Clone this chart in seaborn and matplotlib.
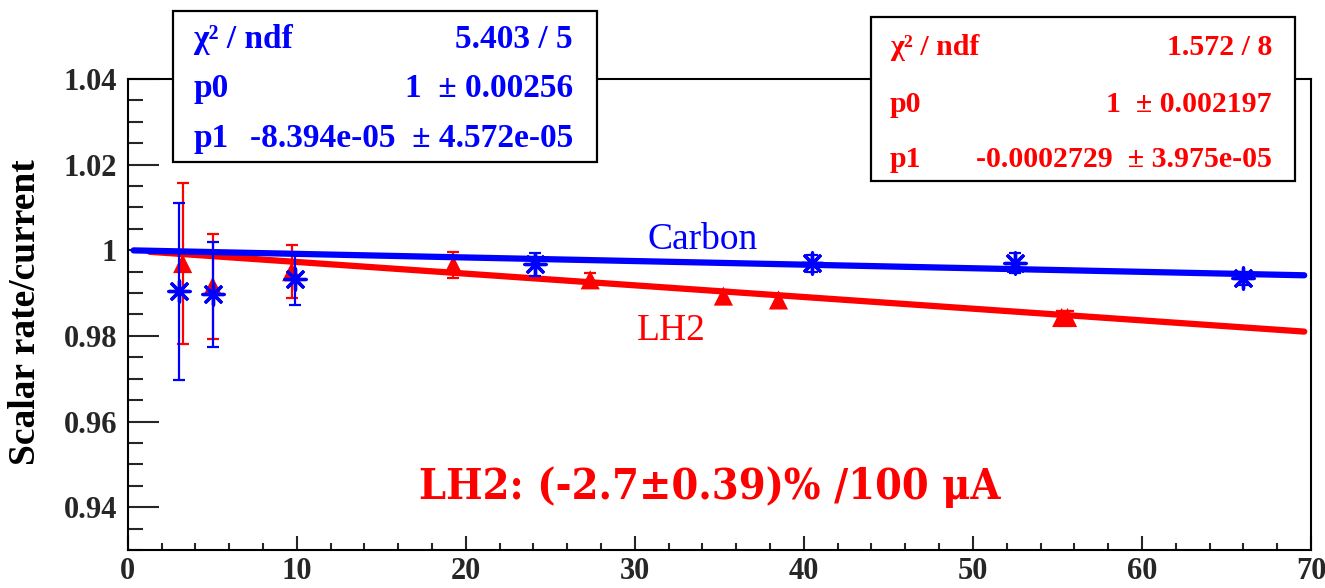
import numpy as np
import pandas as pd
import matplotlib
matplotlib.use("Agg")
import matplotlib.pyplot as plt
from matplotlib.patches import Rectangle
import seaborn as sns

# Measurements: normalised scaler rate vs beam current (uA)
carbon_x = [3.04, 5.03, 9.90, 24.07, 40.47, 52.50, 66.00]
carbon_y = [0.9904, 0.9897, 0.9933, 0.9967, 0.9970, 0.9970, 0.9935]
carbon_err = [0.0207, 0.0123, 0.0060, 0.0027, 0.0020, 0.0023, 0.0015]

lh2_x = [3.25, 5.03, 9.70, 19.26, 27.36, 35.24, 38.50, 55.25, 55.60]
lh2_y = [0.9969, 0.9916, 0.9950, 0.9965, 0.9931, 0.9893, 0.9884, 0.9843, 0.9843]
lh2_err = [0.0189, 0.0123, 0.0062, 0.0030, 0.0015, 0.0015, 0.0015, 0.0015, 0.0015]

# Linear fit results (p0 + p1 * x) and the ranges they are drawn over
carbon_p0, carbon_p1 = 1.0, -8.394e-05
lh2_p0, lh2_p1 = 1.0, -0.0002729
carbon_range = [0.35, 69.6]
lh2_range = [1.3, 69.6]

carbon_stats = [("χ² / ndf", "5.403 / 5"),
                ("p0", "1  ± 0.00256"),
                ("p1", "-8.394e-05  ± 4.572e-05")]
lh2_stats = [("χ² / ndf", "1.572 / 8"),
             ("p0", "1  ± 0.002197"),
             ("p1", "-0.0002729  ± 3.975e-05")]

x_ticks = [0, 10, 20, 30, 40, 50, 60, 70]
y_ticks = [0.94, 0.96, 0.98, 1.0, 1.02, 1.04]
y_tick_labels = ["0.94", "0.96", "0.98", "1", "1.02", "1.04"]

BLUE = "#0000ff"
RED = "#ff0000"
SERIF = ["Liberation Serif", "DejaVu Serif"]

sns.set_theme(style="white")
plt.rcParams["font.family"] = SERIF

W, H = 1325, 588
fig = plt.figure(figsize=(W / 100, H / 100), dpi=100)
fig.patch.set_facecolor("white")


def fx(px):
    return px / W


def fy(py):
    return 1 - py / H


ax_l, ax_r, ax_t, ax_b = 127.7, 1311, 79, 550
ax = fig.add_axes([fx(ax_l), fy(ax_b), fx(ax_r - ax_l), (ax_b - ax_t) / H])
ax.set_xlim(0, 70)
ax.set_ylim(0.93, 1.04)

carbon_df = pd.DataFrame({"current": carbon_x, "ratio": carbon_y, "err": carbon_err})
lh2_df = pd.DataFrame({"current": lh2_x, "ratio": lh2_y, "err": lh2_err})

fit_carbon = pd.DataFrame({"current": carbon_range})
fit_carbon["ratio"] = carbon_p0 + carbon_p1 * fit_carbon["current"]
fit_lh2 = pd.DataFrame({"current": lh2_range})
fit_lh2["ratio"] = lh2_p0 + lh2_p1 * fit_lh2["current"]

# LH2 points, error bars and fit
ax.errorbar(lh2_df["current"], lh2_df["ratio"], yerr=lh2_df["err"], fmt="none",
            ecolor=RED, elinewidth=1.6, capsize=4, capthick=1.6, zorder=3)
sns.scatterplot(data=lh2_df, x="current", y="ratio", marker="^", s=190,
                color=RED, edgecolor="none", ax=ax, zorder=4, legend=False)
sns.lineplot(data=fit_lh2, x="current", y="ratio", color=RED, linewidth=4.5,
             ax=ax, zorder=5)

# Carbon points, error bars and fit
ax.errorbar(carbon_df["current"], carbon_df["ratio"], yerr=carbon_df["err"], fmt="none",
            ecolor=BLUE, elinewidth=1.6, capsize=4, capthick=1.6, zorder=6)
sns.scatterplot(data=carbon_df, x="current", y="ratio", marker=(8, 2, 0), s=230,
                color=BLUE, linewidth=2.4, ax=ax, zorder=7, legend=False)
sns.lineplot(data=fit_carbon, x="current", y="ratio", color=BLUE, linewidth=4.5,
             ax=ax, zorder=8)

# Axes styling: ticks inside, bold serif labels
for side in ["left", "bottom", "top", "right"]:
    ax.spines[side].set_linewidth(1.5)
    ax.spines[side].set_color("black")
ax.set_xticks(x_ticks)
ax.set_xticklabels([str(v) for v in x_ticks])
ax.set_yticks(y_ticks)
ax.set_yticklabels(y_tick_labels)
ax.xaxis.set_minor_locator(matplotlib.ticker.MultipleLocator(2))
ax.yaxis.set_minor_locator(matplotlib.ticker.MultipleLocator(0.005))
ax.tick_params(axis="y", which="major", direction="in", length=22, width=1.5, pad=7.5,
               left=True, right=False, labelsize=22)
ax.tick_params(axis="y", which="minor", direction="in", length=11, width=1.5,
               left=True, right=False)
ax.tick_params(axis="x", which="major", direction="in", length=10, width=1.5, pad=5,
               bottom=True, top=False, labelsize=22)
ax.tick_params(axis="x", which="minor", direction="in", length=5, width=1.5,
               bottom=True, top=False)
for lab in ax.get_xticklabels() + ax.get_yticklabels():
    lab.set_fontweight("bold")
ax.set_xlabel("")
ax.set_ylabel("")

fig.text(fx(26), fy(312), "Scalar rate/current", rotation=90, ha="center", va="center",
         fontsize=27, fontweight="bold", color="black")

# In-plot labels
fig.text(fx(703), fy(240), "Carbon", ha="center", va="center", fontsize=27, color=BLUE)
fig.text(fx(671), fy(331), "LH2", ha="center", va="center", fontsize=27, color=RED)
fig.text(fx(710), fy(487), "LH2: (-2.7±0.39)% /100 μA", ha="center", va="center",
         fontsize=31, fontweight="bold", fontstretch="condensed", color=RED,
         family=["DejaVu Serif"])


# Fit statistics boxes
def stat_box(x0, x1, y0, y1, rows, tx_l, tx_r, baselines, size, color):
    fig.patches.append(Rectangle((fx(x0), fy(y1)), fx(x1 - x0), (y1 - y0) / H,
                                 transform=fig.transFigure, facecolor="white",
                                 edgecolor="black", linewidth=1.6, zorder=10))
    for (name, value), base in zip(rows, baselines):
        fig.text(fx(tx_l), fy(base), name, ha="left", va="baseline", fontsize=size,
                 fontweight="bold", color=color, zorder=11)
        fig.text(fx(tx_r), fy(base), value, ha="right", va="baseline", fontsize=size,
                 fontweight="bold", color=color, zorder=11)


stat_box(172.7, 597.3, 11, 162.3, carbon_stats, 193, 573, [48, 97, 147], 24, BLUE)
stat_box(871, 1295, 17, 181, lh2_stats, 890, 1272, [55, 112, 167], 21.5, RED)

fig.savefig("out.png", dpi=100, facecolor="white")
